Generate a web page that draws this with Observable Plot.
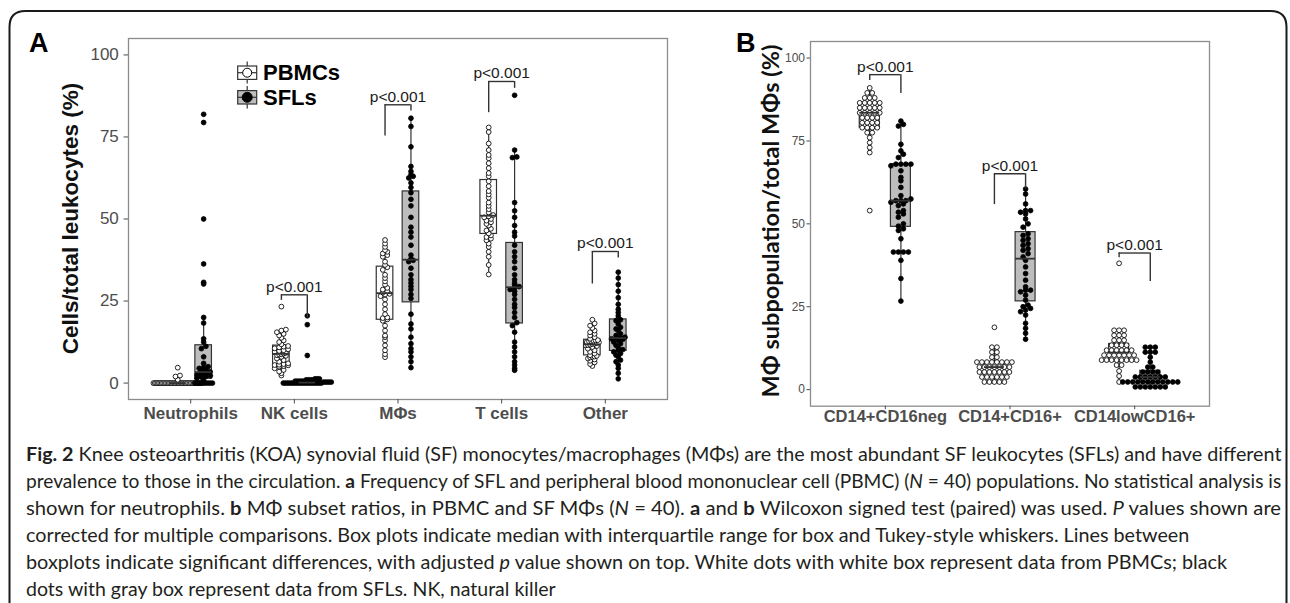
<!DOCTYPE html>
<html><head><meta charset="utf-8">
<script src="https://cdn.jsdelivr.net/npm/d3@7"></script>
<script src="https://cdn.jsdelivr.net/npm/@observablehq/plot@0.6"></script>
<style>
html,body{margin:0;padding:0;background:#fff;}
#root{position:relative;width:1290px;height:603px;overflow:hidden;background:#fff;}
#panelA{position:absolute;left:0;top:0;width:680px;height:430px;}
#panelB{position:absolute;left:690px;top:0;width:600px;height:430px;}
#overlay{position:absolute;left:0;top:0;pointer-events:none;}
</style></head><body>
<div id="root">
<div id="panelA"></div>
<div id="panelB"></div>
<svg id="overlay" width="1290" height="603" xmlns="http://www.w3.org/2000/svg">
  <path d="M9.5,650 V27 Q9.5,11 25.5,11 H1270.5 Q1286.5,11 1286.5,27 V650" fill="none" stroke="#1a1a1a" stroke-width="2"/>
  <text x="29" y="52" font-family="'Liberation Sans', Arial, sans-serif" font-weight="bold" font-size="27" fill="#000">A</text>
  <text x="736" y="52" font-family="'Liberation Sans', Arial, sans-serif" font-weight="bold" font-size="27" fill="#000">B</text>
  <text transform="translate(70,218.5) rotate(-90)" text-anchor="middle" dominant-baseline="central" font-family="'Liberation Sans', Arial, sans-serif" font-weight="bold" font-size="22.5" fill="#111">Cells/total leukocytes (%)</text>
  <text transform="translate(770,221) rotate(-90)" text-anchor="middle" dominant-baseline="central" font-family="Lato, 'Open Sans', sans-serif" font-weight="bold" font-size="23.5" fill="#111">MΦ subpopulation/total MΦs (%)</text>
  <g id="legend" font-family="'Liberation Sans', Arial, sans-serif" font-weight="bold" font-size="22" fill="#000">
    <line x1="247.2" x2="247.2" y1="61.5" y2="83.5" stroke="#333" stroke-width="1.2"/>
    <rect x="237.7" y="66" width="19" height="13.4" fill="#fff" stroke="#333" stroke-width="1.2"/>
    <line x1="237.7" x2="256.7" y1="72.7" y2="72.7" stroke="#333" stroke-width="1.2"/>
    <circle cx="247.2" cy="72.7" r="4.5" fill="#fff" stroke="#000" stroke-width="1"/>
    <text x="263" y="72.7" dominant-baseline="central">PBMCs</text>
    <line x1="247.2" x2="247.2" y1="86" y2="108.5" stroke="#333" stroke-width="1.2"/>
    <rect x="237.7" y="90.6" width="19" height="13.4" fill="#bdbdbd" stroke="#333" stroke-width="1.2"/>
    <line x1="237.7" x2="256.7" y1="97.3" y2="97.3" stroke="#333" stroke-width="1.2"/>
    <circle cx="247.2" cy="97.3" r="5" fill="#000" stroke="#000" stroke-width="1"/>
    <text x="263" y="97.3" dominant-baseline="central">SFLs</text>
  </g>
  <g id="caption" font-family="Lato, 'Open Sans', sans-serif" font-size="19" fill="#231f20">
    <text class="capline" data-w="1256" data-y="461"><tspan font-weight="bold">Fig. 2</tspan> Knee osteoarthritis (KOA) synovial fluid (SF) monocytes/macrophages (MΦs) are the most abundant SF leukocytes (SFLs) and have different</text>
    <text class="capline" data-w="1256" data-y="488">prevalence to those in the circulation. <tspan font-weight="bold">a</tspan> Frequency of SFL and peripheral blood mononuclear cell (PBMC) (<tspan font-style="italic">N</tspan> = 40) populations. No statistical analysis is</text>
    <text class="capline" data-w="1256" data-y="515">shown for neutrophils. <tspan font-weight="bold">b</tspan> MΦ subset ratios, in PBMC and SF MΦs (<tspan font-style="italic">N</tspan> = 40). <tspan font-weight="bold">a</tspan> and <tspan font-weight="bold">b</tspan> Wilcoxon signed test (paired) was used. <tspan font-style="italic">P</tspan> values shown are</text>
    <text class="capline" data-w="1164" data-y="542">corrected for multiple comparisons. Box plots indicate median with interquartile range for box and Tukey-style whiskers. Lines between</text>
    <text class="capline" data-w="1202" data-y="569">boxplots indicate significant differences, with adjusted <tspan font-style="italic">p</tspan> value shown on top. White dots with white box represent data from PBMCs; black</text>
    <text class="capline" data-w="530" data-y="595.5">dots with gray box represent data from SFLs. NK, natural killer</text>
  </g>
</svg>
</div>
<script>
// ---------------- data ----------------
const catsA = ["Neutrophils", "NK cells", "MΦs", "T cells", "Other"];
const catsB = ["CD14+CD16neg", "CD14+CD16+", "CD14lowCD16+"];
const groupNames = ["PBMCs", "SFLs"];
const yTicks = [0, 25, 50, 75, 100];

// Panel A: cells / total leukocytes (%), N = 40 per group
const neutrophilsPBMC = [0,0,0,0,0,0,0,0,0,0,0,0,0,0,0,0,0,0,0,0,0,0,0,0,0,0,0,0,0,0,0,0,0,0,0,0,1.0,2.0,2.3,4.7];
const neutrophilsSFL = [0,0,0,0,0,0,0,0,0,0.8,1.5,1.8,2.0,2.2,2.5,2.8,3.0,3.1,3.2,3.3,3.4,3.6,4.0,4.5,4.8,5.0,6.0,8.0,10.5,11.2,12.5,13.5,18.3,20.0,30.2,30.7,36.3,50.0,79.4,81.9];
const nkPBMC = [2.3,3.0,3.5,4.0,4.5,5.0,5.2,5.4,5.5,5.6,5.8,6.0,6.5,7.0,7.5,8.0,8.3,8.5,8.7,8.8,9.0,9.2,9.5,9.8,10.0,10.3,10.6,10.9,11.1,11.3,11.8,12.5,13.0,13.8,14.5,15.0,15.5,16.0,16.3,23.3];
const nkSFL = [0,0,0,0,0,0,0,0,0,0,0,0,0,0,0,0,0,0,0,0,0.3,0.3,0.3,0.3,0.3,0.6,0.6,0.6,0.6,0.6,1.0,1.0,1.0,1.0,1.3,1.3,1.3,8.4,17.8,20.5];
const macroPBMC = [7.9,8.8,10.0,11.5,13.0,14.0,14.5,16.0,17.5,19.0,19.4,19.8,20.0,21.0,22.5,24.0,25.5,26.5,27.0,27.2,27.6,28.0,28.5,29.0,30.0,31.0,32.0,33.0,34.5,35.3,36.0,37.0,38.5,39.0,39.5,40.0,40.5,41.5,42.5,43.6];
const macroSFL = [4.7,6.5,8.0,9.5,10.5,12.0,14.0,16.5,18.0,21.0,25.8,27.0,28.5,29.5,30.5,31.5,33.0,35.0,37.0,37.4,37.8,39.0,42.0,44.5,46.0,47.5,50.5,54.0,56.0,58.0,59.6,61.0,62.5,63.0,63.5,64.5,66.0,72.0,78.2,80.7];
const tPBMC = [33.1,36.0,38.5,40.0,41.5,42.5,43.5,44.0,44.5,45.0,45.6,46.5,47.0,48.0,48.5,49.0,49.5,50.0,50.5,50.8,51.2,52.0,53.0,54.0,55.0,56.5,57.5,58.5,60.0,61.5,63.0,64.0,65.5,67.0,68.5,69.5,71.0,73.0,76.5,77.9];
const tSFL = [3.9,4.5,5.5,6.5,8.0,9.5,11.0,12.5,15.5,17.5,18.4,20.0,21.5,23.0,24.0,25.5,27.0,28.0,28.5,29.0,29.4,30.0,30.5,31.5,33.0,35.0,37.0,38.5,40.0,42.0,44.8,46.0,48.0,50.5,52.5,55.0,68.7,68.9,71.0,87.7];
const otherPBMC = [5.2,5.8,6.3,6.8,7.2,7.5,7.8,8.0,8.1,8.3,8.5,9.0,9.5,10.0,10.5,11.0,11.3,11.5,11.6,11.7,11.9,12.0,12.2,12.4,12.5,12.7,12.8,12.9,13.0,13.1,13.5,14.0,14.5,15.0,15.5,16.0,16.8,17.5,18.2,19.3];
const otherSFL = [1.3,3.0,4.5,5.5,6.5,7.0,8.0,8.5,9.0,9.5,9.9,10.2,10.8,11.5,12.0,12.5,13.0,13.3,13.5,13.6,13.8,14.0,14.5,15.0,16.0,16.5,17.0,18.0,19.0,19.3,19.7,20.5,21.5,22.5,24.0,26.0,28.0,30.0,32.0,33.8];

// Panel B: MΦ subpopulation / total MΦs (%), N = 40 per group
const cd16negPBMC = [54.0,71.5,73.0,74.5,76.0,77.5,77.5,79.0,79.0,79.0,79.0,80.5,80.5,80.5,80.5,82.0,82.0,82.0,82.0,83.5,83.5,83.5,83.5,83.5,85.0,85.0,85.0,85.0,85.0,86.5,86.5,86.5,86.5,86.5,88.0,88.0,88.0,89.5,89.5,91.0];
const cd16negSFL = [26.7,33.5,39.0,41.5,41.5,41.5,41.5,45.5,48.0,48.5,49.3,50.0,52.0,53.0,53.5,54.0,55.5,56.0,56.5,57.0,57.0,57.0,57.5,58.5,61.0,63.0,64.0,66.0,67.5,68.0,68.0,68.0,68.0,70.0,71.0,72.0,74.0,79.5,80.0,81.0];
const cd16posPBMC = [2.3,2.3,2.3,2.3,2.3,3.8,3.8,3.8,3.8,3.8,3.8,5.3,5.3,5.3,5.3,5.3,5.3,5.3,6.8,6.8,6.8,6.8,6.8,6.8,6.8,8.3,8.3,8.3,8.3,8.3,8.3,8.3,8.3,9.8,9.8,11.3,11.3,12.8,12.8,18.8];
const cd16posSFL = [15.2,17.0,18.5,20.0,22.5,23.5,24.0,24.5,25.0,25.5,27.0,28.5,29.5,30.0,30.0,31.0,33.0,35.0,37.0,39.0,40.0,41.0,42.0,42.5,43.5,44.0,45.0,45.5,46.5,47.0,49.0,50.0,51.5,53.0,53.5,54.0,54.0,56.0,59.0,60.5];
const cd14lowPBMC = [2.3,4.1,5.6,7.4,7.4,8.9,8.9,8.9,8.9,8.9,8.9,8.9,8.9,10.4,10.4,10.4,10.4,10.4,10.4,10.4,11.9,11.9,11.9,11.9,11.9,11.9,13.4,13.4,13.4,13.4,14.9,14.9,14.9,16.4,16.4,16.4,17.9,17.9,17.9,38.1];
const cd14lowSFL = [0.8,0.8,0.8,0.8,0.8,0.8,0.8,2.3,2.3,2.3,2.3,2.3,2.3,2.3,2.3,2.3,2.3,2.3,2.3,3.8,3.8,3.8,3.8,3.8,3.8,3.8,5.3,5.3,5.3,5.3,6.8,6.8,8.3,9.8,11.3,11.3,11.3,12.8,12.8,12.8];

// significance brackets (values in % units)
const pLabel = "p<0.001";
const bracketCatsA = ["NK cells", "MΦs", "T cells", "Other"];
const bracketTopA = [26.9, 84.8, 91.9, 40.1];
const bracketLeftEndA = [25.2, 75.3, 82.4, 30.2];
const bracketRightEndA = [19.9, 82.9, 89.8, 38.1];
const bracketCatsB = ["CD14+CD16neg", "CD14+CD16+", "CD14lowCD16+"];
const bracketTopB = [95.0, 65.1, 41.2];
const bracketLeftEndB = [93.2, 55.8, 39.8];
const bracketRightEndB = [89.3, 60.5, 32.6];

// ---------------- helpers ----------------
const OFFSET = 0.125;   // dodge of each group from the category centre (x units)
const HALF_BOX = 0.08;  // half box width (x units)

function boxStats(values) {
  const s = values.slice().sort(d3.ascending);
  const q1 = d3.quantile(s, 0.25), med = d3.quantile(s, 0.5), q3 = d3.quantile(s, 0.75);
  const iqr = q3 - q1;
  const lo = d3.min(s.filter(v => v >= q1 - 1.5 * iqr));
  const hi = d3.max(s.filter(v => v <= q3 + 1.5 * iqr));
  return {q1, med, q3, lo, hi};
}

// dot-plot style stacking: values sharing a bin are spread sideways
function stackDots(values, cx, binW, pxPerUnit, dotPx, compress) {
  const bins = d3.groups(values, v => Math.round(v / binW));
  const out = [];
  for (const [, arr] of bins) {
    const n = arr.length;
    let sp = dotPx;
    if (compress && n > 4) sp = Math.max(1.3, Math.min(2.2, 50 / n));
    arr.forEach((v, k) => out.push({x: cx + (k - (n - 1) / 2) * sp / pxPerUnit, y: v}));
  }
  return out;
}

function buildPanel(cfg) {
  const {cats, series, pxPerUnit, binW, dotPx, compress} = cfg;
  const boxes = [], dotsP = [], dotsS = [];
  series.forEach(([pbmc, sfl], i) => {
    const c = i + 1;
    [[pbmc, c - OFFSET, "PBMCs", dotsP], [sfl, c + OFFSET, "SFLs", dotsS]].forEach(([vals, cx, g, target]) => {
      boxes.push({group: g, x: cx, x1: cx - HALF_BOX, x2: cx + HALF_BOX, ...boxStats(vals)});
      target.push(...stackDots(vals, cx, binW, pxPerUnit, dotPx, compress));
    });
  });
  const brackets = cfg.bCats.map((cat, i) => {
    const c = cats.indexOf(cat) + 1;
    return {xl: c - OFFSET, xr: c + OFFSET, xc: c, top: cfg.bTop[i], left: cfg.bLeft[i], right: cfg.bRight[i], label: pLabel};
  });
  return {boxes, dotsP, dotsS, brackets};
}

function marksFor(p, axisCfg) {
  const lineColor = "#333";
  return [
    Plot.frame({stroke: "#8c8c8c", strokeWidth: 1.3}),
    Plot.axisY({ticks: yTicks, tickSize: axisCfg.ySize, tickPadding: axisCfg.yPad, fontSize: axisCfg.yFont, color: "#4d4d4d", label: null}),
    Plot.axisX({ticks: d3.range(1, axisCfg.cats.length + 1), tickFormat: d => axisCfg.cats[d - 1], tickSize: axisCfg.xSize, tickPadding: axisCfg.xPad, fontSize: axisCfg.xFont, fontWeight: "bold", color: "#4d4d4d", label: null}),
    Plot.ruleX(p.boxes, {x: "x", y1: "q3", y2: "hi", stroke: lineColor, strokeWidth: 1.2}),
    Plot.ruleX(p.boxes, {x: "x", y1: "lo", y2: "q1", stroke: lineColor, strokeWidth: 1.2}),
    Plot.rect(p.boxes.filter(d => d.group === "PBMCs"), {x1: "x1", x2: "x2", y1: "q1", y2: "q3", fill: "#ffffff", stroke: lineColor, strokeWidth: 1.2}),
    Plot.rect(p.boxes.filter(d => d.group === "SFLs"), {x1: "x1", x2: "x2", y1: "q1", y2: "q3", fill: "#bdbdbd", stroke: lineColor, strokeWidth: 1.2}),
    Plot.dot(p.dotsP, {x: "x", y: "y", r: 2.4, fill: "#ffffff", stroke: "#000", strokeWidth: 0.85}),
    Plot.dot(p.dotsS, {x: "x", y: "y", r: 2.4, fill: "#000", stroke: "#000", strokeWidth: 0.8}),
    Plot.ruleY(p.boxes, {y: "med", x1: "x1", x2: "x2", stroke: lineColor, strokeWidth: 1.8}),
    Plot.ruleY(p.brackets, {y: "top", x1: "xl", x2: "xr", stroke: lineColor, strokeWidth: 1.4}),
    Plot.ruleX(p.brackets, {x: "xl", y1: "top", y2: "left", stroke: lineColor, strokeWidth: 1.4}),
    Plot.ruleX(p.brackets, {x: "xr", y1: "top", y2: "right", stroke: lineColor, strokeWidth: 1.4}),
    Plot.text(p.brackets, {x: "xc", y: "top", text: "label", dy: -8, fontSize: 15.5, fill: "#1a1a1a"})
  ];
}

// ---------------- panel A ----------------
const A = {width: 680, height: 430, ml: 128, mr: 13, mt: 38, mb: 31};
const pA = buildPanel({
  cats: catsA,
  series: [[neutrophilsPBMC, neutrophilsSFL], [nkPBMC, nkSFL], [macroPBMC, macroSFL], [tPBMC, tSFL], [otherPBMC, otherSFL]],
  pxPerUnit: (A.width - A.ml - A.mr) / 5.2, binW: 1.0, dotPx: 4.5, compress: true,
  bCats: bracketCatsA, bTop: bracketTopA, bLeft: bracketLeftEndA, bRight: bracketRightEndA
});
const plotA = Plot.plot({
  width: A.width, height: A.height,
  marginLeft: A.ml, marginRight: A.mr, marginTop: A.mt, marginBottom: A.mb,
  x: {domain: [0.4, 5.6], axis: null},
  y: {domain: [-5, 105], axis: null},
  style: {fontFamily: "'Liberation Sans', Arial, Helvetica, sans-serif", background: "transparent"},
  marks: marksFor(pA, {cats: catsA, ySize: 4.5, yPad: 5.2, yFont: 17, xSize: 4.5, xPad: 3.4, xFont: 17})
});
document.getElementById("panelA").appendChild(plotA);

// ---------------- panel B ----------------
const B = {width: 600, height: 430, ml: 120, mr: 81, mt: 41, mb: 24.3};
const pB = buildPanel({
  cats: catsB,
  series: [[cd16negPBMC, cd16negSFL], [cd16posPBMC, cd16posSFL], [cd14lowPBMC, cd14lowSFL]],
  pxPerUnit: (B.width - B.ml - B.mr) / 3.2, binW: 1.5, dotPx: 5.0, compress: false,
  bCats: bracketCatsB, bTop: bracketTopB, bLeft: bracketLeftEndB, bRight: bracketRightEndB
});
const plotB = Plot.plot({
  width: B.width, height: B.height,
  marginLeft: B.ml, marginRight: B.mr, marginTop: B.mt, marginBottom: B.mb,
  x: {domain: [0.4, 3.6], axis: null},
  y: {domain: [-5, 105], axis: null},
  style: {fontFamily: "'Liberation Sans', Arial, Helvetica, sans-serif", background: "transparent"},
  marks: marksFor(pB, {cats: catsB, ySize: 3.5, yPad: 2, yFont: 12, xSize: 3.5, xPad: 1, xFont: 16.5})
});
document.getElementById("panelB").appendChild(plotB);

// ---------------- caption: fit each line to its measured width ----------------
document.querySelectorAll("#caption .capline").forEach(t => {
  const target = +t.dataset.w, y = +t.dataset.y;
  const len = t.getComputedTextLength();
  t.setAttribute("transform", `translate(26,${y}) scale(${target / len},1)`);
});
</script>
</body></html>
